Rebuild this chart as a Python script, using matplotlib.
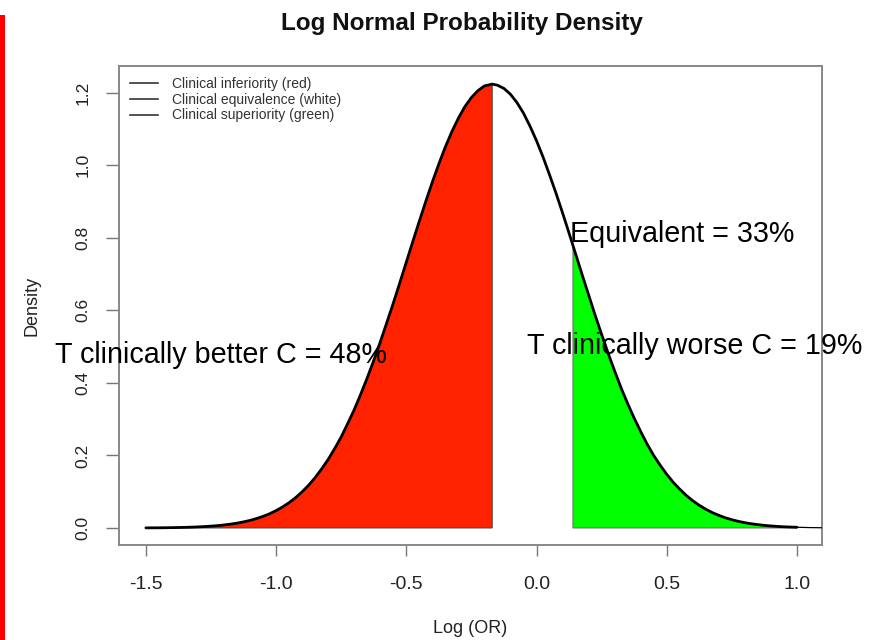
import numpy as np
import matplotlib
matplotlib.use("Agg")
from matplotlib import pyplot as plt
from matplotlib.patches import Rectangle

# density curve (log OR, density)
log_or = [-1.500, -1.475, -1.450, -1.425, -1.400, -1.375, -1.350, -1.325, -1.300, -1.275,
          -1.250, -1.225, -1.200, -1.175, -1.150, -1.125, -1.100, -1.075, -1.050, -1.025,
          -1.000, -0.975, -0.950, -0.925, -0.900, -0.875, -0.850, -0.825, -0.800, -0.775,
          -0.750, -0.725, -0.700, -0.675, -0.650, -0.625, -0.600, -0.575, -0.550, -0.525,
          -0.500, -0.475, -0.450, -0.425, -0.400, -0.375, -0.350, -0.325, -0.300, -0.275,
          -0.250, -0.225, -0.200, -0.170, -0.150, -0.125, -0.100, -0.075, -0.050, -0.025,
          0.000, 0.025, 0.050, 0.075, 0.100, 0.125, 0.140, 0.150, 0.175, 0.200,
          0.225, 0.250, 0.275, 0.300, 0.325, 0.350, 0.375, 0.400, 0.425, 0.450,
          0.475, 0.500, 0.525, 0.550, 0.575, 0.600, 0.625, 0.650, 0.675, 0.700,
          0.725, 0.750, 0.775, 0.800, 0.825, 0.850, 0.875, 0.900, 0.925, 0.950,
          0.975, 1.000]
density = [0.0003, 0.0004, 0.0005, 0.0007, 0.0010, 0.0013, 0.0017, 0.0023, 0.0030, 0.0039,
           0.0051, 0.0065, 0.0083, 0.0106, 0.0133, 0.0168, 0.0209, 0.0260, 0.0320, 0.0392,
           0.0479, 0.0581, 0.0699, 0.0837, 0.0997, 0.118, 0.139, 0.163, 0.189, 0.219,
           0.251, 0.288, 0.326, 0.369, 0.414, 0.462, 0.513, 0.566, 0.620, 0.676,
           0.733, 0.790, 0.846, 0.901, 0.954, 1.004, 1.051, 1.093, 1.130, 1.162,
           1.187, 1.206, 1.219, 1.224, 1.221, 1.212, 1.196, 1.173, 1.144, 1.108,
           1.068, 1.023, 0.974, 0.923, 0.869, 0.813, 0.779, 0.756, 0.699, 0.643,
           0.587, 0.534, 0.482, 0.433, 0.386, 0.343, 0.303, 0.266, 0.231, 0.200,
           0.173, 0.148, 0.126, 0.107, 0.0898, 0.0752, 0.0625, 0.0518, 0.0425, 0.0348,
           0.0282, 0.0228, 0.0183, 0.0146, 0.0116, 0.0092, 0.0072, 0.0056, 0.0043, 0.0033,
           0.0026, 0.0020]
tail_x = [1.00, 1.05, 1.10]
tail_y = [0.0020, 0.0011, 0.0006]

red_limit = -0.17
green_limit = 0.14

legend_labels = ["Clinical inferiority (red)",
                 "Clinical equivalence (white)",
                 "Clinical superiority (green)"]
x_ticks = [-1.5, -1.0, -0.5, 0.0, 0.5, 1.0]
y_ticks = [0.0, 0.2, 0.4, 0.6, 0.8, 1.0, 1.2]

plt.rcParams['font.family'] = ['Liberation Sans', 'DejaVu Sans']

x = np.array(log_or)
y = np.array(density)

fig = plt.figure(figsize=(8.8, 6.4), dpi=100)
ax = fig.add_axes([0.135, 0.1484, 0.799, 0.7485])

# shaded regions
red = x <= red_limit
ax.fill(np.r_[x[red], x[red][-1], x[red][0]], np.r_[y[red], 0, 0],
        facecolor='#ff2200', edgecolor='#444444', lw=0.7, zorder=2)
green = x >= green_limit
ax.fill(np.r_[x[green][0], x[green], x[green][-1]], np.r_[0, y[green], 0],
        facecolor='#00ff00', edgecolor='#666666', lw=0.7, zorder=2)

# curve
ax.plot(x, y, color='black', lw=2.0, zorder=3, solid_capstyle='round')
ax.plot(tail_x, tail_y, color='black', lw=0.9, zorder=3)

# legend (lines only, no box)
handles = [plt.Line2D([], [], color='#333333', lw=1.2) for _ in legend_labels]
leg = ax.legend(handles, legend_labels, loc='upper left', frameon=False,
                fontsize=10, handlelength=2.0, handletextpad=1.0,
                labelspacing=0.12, borderaxespad=0.4,
                bbox_to_anchor=(0.0, 1.0))
for t in leg.get_texts():
    t.set_color('#333333')

ax.set_xlim(-1.604, 1.096)
ax.set_ylim(-0.047, 1.274)
ax.set_xticks(x_ticks)
ax.set_xticklabels(["%.1f" % v for v in x_ticks])
ax.set_yticks(y_ticks)
ax.set_yticklabels(["%.1f" % v for v in y_ticks], rotation=90, va='center')
ax.tick_params(axis='x', length=8, width=1.0, color='#777777', pad=14,
               labelsize=14, labelcolor='#222222')
ax.tick_params(axis='y', length=9.5, width=1.0, color='#777777', pad=11,
               labelsize=12.5, labelcolor='#222222')
for s in ax.spines.values():
    s.set_color('#888888')
    s.set_linewidth(1.4)

ax.set_xlabel("Log (OR)", fontsize=13, color='#222222', labelpad=20)
ax.set_ylabel("Density", fontsize=13, color='#222222', labelpad=25)
fig.text(0.525, 0.963, "Log Normal Probability Density", ha='center', va='center',
         fontsize=17.5, fontweight='bold', color='#111111')

# annotations
ax.text(-1.849, 0.455, "T clinically better C = 48%", fontsize=20.7,
        ha='left', va='baseline', clip_on=False, zorder=5)
ax.text(0.129, 0.789, "Equivalent = 33%", fontsize=20.7,
        ha='left', va='baseline', clip_on=False, zorder=5)
ax.text(-0.037, 0.480, "T clinically worse C = 19%", fontsize=20.7,
        ha='left', va='baseline', clip_on=False, zorder=5)

# red bar on the left edge of the slide
fig.patches.append(Rectangle((0, 0), 5 / 880, 1 - 15 / 640, transform=fig.transFigure,
                             facecolor='#ff0000', edgecolor='none'))

fig.savefig("out.png", dpi=100)
